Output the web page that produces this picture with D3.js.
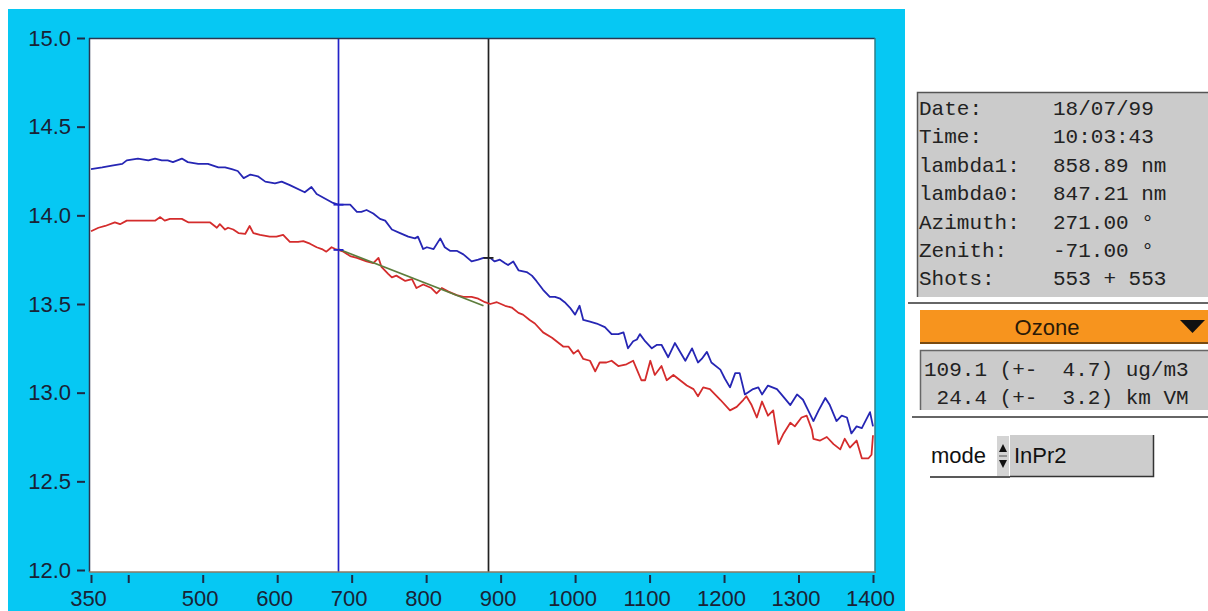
<!DOCTYPE html>
<html>
<head>
<meta charset="utf-8">
<script src="https://cdn.jsdelivr.net/npm/d3@7"></script>
<style>
  html, body { margin: 0; padding: 0; background: #fff; }
  svg { display: block; }
  text { white-space: pre; }
</style>
</head>
<body>
<svg id="chart" width="1208" height="611"></svg>
<script>
// Lidar return signal ln(P·r²) versus range (m) for the two wavelengths
const blueRange = [350,365,378,392,398,413,427,436,445,453,460,472,480,494,507,521,530,539,547,555,564,574,584,597,606,617,637,646,653,675,682,698,707,713,720,729,738,745,754,765,776,785,789,796,801,810,819,825,832,841,850,861,870,877,886,892,899,906,910,917,924,935,942,948,957,966,973,980,986,993,1000,1006,1011,1020,1029,1040,1049,1058,1065,1071,1078,1083,1087,1094,1103,1110,1116,1125,1134,1148,1157,1165,1170,1177,1183,1195,1201,1208,1215,1221,1228,1239,1246,1251,1259,1271,1277,1289,1298,1306,1313,1320,1327,1336,1342,1351,1358,1365,1371,1378,1385,1396,1400];
const blueSignal = [14.26,14.27,14.28,14.29,14.31,14.32,14.31,14.32,14.31,14.31,14.30,14.32,14.30,14.29,14.29,14.27,14.27,14.26,14.25,14.21,14.23,14.22,14.19,14.18,14.19,14.17,14.13,14.16,14.12,14.07,14.06,14.06,14.02,14.02,14.03,14.01,13.98,13.97,13.92,13.90,13.88,13.87,13.88,13.81,13.82,13.81,13.87,13.82,13.80,13.80,13.78,13.74,13.75,13.76,13.76,13.74,13.75,13.73,13.72,13.74,13.69,13.68,13.66,13.63,13.58,13.54,13.54,13.53,13.51,13.48,13.44,13.49,13.41,13.40,13.39,13.37,13.33,13.33,13.34,13.25,13.29,13.30,13.33,13.29,13.25,13.27,13.27,13.20,13.28,13.18,13.25,13.17,13.19,13.23,13.17,13.13,13.08,13.03,13.11,13.11,12.99,13.02,13.03,12.99,13.04,13.02,12.99,12.93,12.99,12.96,12.90,12.84,12.90,12.97,12.93,12.84,12.87,12.86,12.77,12.81,12.80,12.89,12.81];

const redRange = [350,360,369,382,389,398,414,436,443,449,456,472,481,510,519,523,530,534,541,548,557,563,568,577,590,599,608,617,628,635,644,653,660,666,673,678,682,689,698,707,720,729,736,740,749,754,760,772,781,787,796,807,814,821,830,841,850,861,870,879,886,895,906,915,924,930,939,946,957,969,975,984,991,998,1004,1011,1020,1027,1033,1042,1049,1058,1069,1078,1083,1089,1094,1101,1107,1116,1123,1132,1141,1150,1159,1165,1172,1181,1195,1208,1217,1226,1230,1237,1244,1251,1259,1266,1273,1280,1289,1295,1304,1311,1318,1320,1329,1338,1347,1356,1362,1369,1378,1385,1394,1398,1400];
const redSignal = [13.91,13.93,13.94,13.96,13.95,13.97,13.97,13.97,13.99,13.97,13.98,13.98,13.96,13.96,13.93,13.95,13.92,13.93,13.92,13.90,13.895,13.94,13.90,13.89,13.88,13.88,13.89,13.85,13.85,13.855,13.84,13.82,13.81,13.795,13.82,13.81,13.805,13.795,13.77,13.76,13.74,13.73,13.76,13.71,13.67,13.65,13.66,13.63,13.64,13.59,13.61,13.59,13.56,13.59,13.57,13.55,13.54,13.54,13.53,13.51,13.50,13.51,13.49,13.48,13.45,13.44,13.41,13.39,13.34,13.31,13.29,13.26,13.26,13.22,13.24,13.19,13.18,13.12,13.17,13.17,13.18,13.15,13.16,13.18,13.13,13.07,13.07,13.18,13.10,13.15,13.07,13.10,13.07,13.04,13.02,12.98,13.03,13.02,12.96,12.90,12.92,12.96,12.98,12.93,12.86,12.95,12.87,12.90,12.71,12.77,12.83,12.81,12.86,12.87,12.79,12.74,12.73,12.75,12.71,12.68,12.74,12.69,12.73,12.63,12.63,12.65,12.76];

// Linear fit over the selected range window
const fitRange = [682, 877];
const fitSignal = [13.81, 13.49];

// Range-window cursors
const cursorRange = [682, 883];
const cursorColor = ["#2323c8", "#222222"];

// Axis ticks
const xTicks = [350, 400, 500, 600, 700, 800, 900, 1000, 1100, 1200, 1300, 1400];
const xTickLabels = ["350", "", "500", "600", "700", "800", "900", "1000", "1100", "1200", "1300", "1400"];
const yTicks = [12.0, 12.5, 13.0, 13.5, 14.0, 14.5, 15.0];

// Side panel readouts
const infoLabels = ["Date:", "Time:", "lambda1:", "lambda0:", "Azimuth:", "Zenith:", "Shots:"];
const infoValues = ["18/07/99", "10:03:43", "858.89 nm", "847.21 nm", "271.00 °", "-71.00 °", "553 + 553"];
const speciesName = "Ozone";
const resultLines = ["109.1 (+-  4.7) ug/m3", " 24.4 (+-  3.2) km VM"];
const modeName = "InPr2";

const svg = d3.select("#chart");
const SANS = "'Liberation Sans', Arial, Helvetica, sans-serif";
const MONO = "'Liberation Mono', 'Courier New', monospace";

// Cyan frame behind the plot
svg.append("rect").attr("x", 8).attr("y", 9).attr("width", 897).attr("height", 602).attr("fill", "#06c8f3");

const x = d3.scaleLinear().domain([350, 1400]).range([91, 873]);
const y = d3.scaleLinear().domain([12, 15]).range([570, 38]);

// Plot area
svg.append("rect").attr("x", 89).attr("y", 38).attr("width", 786).attr("height", 534).attr("fill", "#ffffff");

svg.append("clipPath").attr("id", "plotclip")
  .append("rect").attr("x", 89).attr("y", 38).attr("width", 786).attr("height", 534);

const plot = svg.append("g").attr("clip-path", "url(#plotclip)");

const line = d3.line().x(d => x(d[0])).y(d => y(d[1]));

const blueData = blueRange.map((r, i) => [r, blueSignal[i]]);
const redData = redRange.map((r, i) => [r, redSignal[i]]);
const fitData = fitRange.map((r, i) => [r, fitSignal[i]]);

// Cursors
plot.selectAll("line.cursor").data(cursorRange).join("line")
  .attr("class", "cursor")
  .attr("x1", d => Math.round(x(d)) + 0.5).attr("x2", d => Math.round(x(d)) + 0.5)
  .attr("y1", 38).attr("y2", 572)
  .attr("stroke", (d, i) => cursorColor[i]).attr("stroke-width", 1.7);

plot.append("path").datum(redData).attr("d", line)
  .attr("fill", "none").attr("stroke", "#d42c2c").attr("stroke-width", 1.8).attr("stroke-linejoin", "round");
plot.append("path").datum(blueData).attr("d", line)
  .attr("fill", "none").attr("stroke", "#2626b4").attr("stroke-width", 1.8).attr("stroke-linejoin", "round");
plot.append("path").datum(fitData).attr("d", line)
  .attr("fill", "none").attr("stroke", "#5d7d3c").attr("stroke-width", 1.7);

// Small markers where the cursors cross each signal
function valueAt(ranges, values, r) {
  const i = Math.max(1, d3.bisectLeft(ranges, r));
  const t = (r - ranges[i - 1]) / (ranges[i] - ranges[i - 1]);
  return values[i - 1] + t * (values[i] - values[i - 1]);
}
cursorRange.forEach((r, ci) => {
  [[blueRange, blueSignal], [redRange, redSignal]].forEach(([rs, vs], si) => {
    if (ci === 1 && si === 1) return;
    const cx = Math.round(x(r)) + 0.5, cy = y(valueAt(rs, vs, r));
    plot.append("line").attr("x1", cx - 5).attr("x2", cx + 5).attr("y1", cy).attr("y2", cy)
      .attr("stroke", cursorColor[ci]).attr("stroke-width", 1.8);
  });
});

// Plot frame
svg.append("line").attr("x1", 89).attr("x2", 875).attr("y1", 38.5).attr("y2", 38.5).attr("stroke", "#2a3550").attr("stroke-width", 1.5);
svg.append("line").attr("x1", 89.5).attr("x2", 89.5).attr("y1", 38).attr("y2", 572).attr("stroke", "#2a3550").attr("stroke-width", 1.5);
svg.append("line").attr("x1", 875).attr("x2", 875).attr("y1", 38).attr("y2", 573).attr("stroke", "#2f7f88").attr("stroke-width", 1.5);
svg.append("line").attr("x1", 89).attr("x2", 876).attr("y1", 572).attr("y2", 572).attr("stroke", "#8b7a62").attr("stroke-width", 1.5);

// Y axis
const yAxis = svg.append("g").attr("transform", "translate(85,0)")
  .call(d3.axisLeft(y).tickValues(yTicks).tickFormat(d3.format(".1f")).tickSize(8).tickPadding(6).tickSizeOuter(0));
yAxis.select(".domain").remove();
yAxis.selectAll(".tick line").attr("stroke", "#1e2a44").attr("stroke-width", 2);
yAxis.selectAll(".tick text").attr("fill", "#1a2235").style("font-family", SANS).style("font-size", "22px");

// X axis
const xAxis = svg.append("g").attr("transform", "translate(0,575)")
  .call(d3.axisBottom(x).tickValues(xTicks).tickFormat((d, i) => xTickLabels[i]).tickSize(8).tickSizeOuter(0));
xAxis.select(".domain").remove();
xAxis.selectAll(".tick line").attr("stroke", "#1e2a44").attr("stroke-width", 2);
xAxis.selectAll(".tick text").attr("fill", "#1a2235").attr("y", 31).attr("dy", 0).attr("dx", -3)
  .style("font-family", SANS).style("font-size", "22px");

// ---- Side panel ----
const panel = svg.append("g");

// Info readout box
panel.append("rect").attr("x", 917).attr("y", 92).attr("width", 291).attr("height", 205).attr("fill", "#cbcbcb");
panel.append("path").attr("d", "M917.5,297 V92.5 H1208").attr("fill", "none").attr("stroke", "#555").attr("stroke-width", 1.5);
panel.selectAll("text.lab").data(infoLabels).join("text").attr("class", "lab")
  .attr("x", 919).attr("y", (d, i) => 115 + i * 28.4)
  .style("font-family", MONO).style("font-size", "21px").attr("fill", "#222").text(d => d);
panel.selectAll("text.val").data(infoValues).join("text").attr("class", "val")
  .attr("x", 1053).attr("y", (d, i) => 115 + i * 28.4)
  .style("font-family", MONO).style("font-size", "21px").attr("fill", "#222").text(d => d);

panel.append("line").attr("x1", 908).attr("x2", 1208).attr("y1", 303).attr("y2", 303).attr("stroke", "#333").attr("stroke-width", 1.5);

// Species selector
panel.append("rect").attr("x", 920).attr("y", 310).attr("width", 288).attr("height", 33).attr("fill", "#f7941e");
panel.append("line").attr("x1", 920).attr("x2", 1208).attr("y1", 343).attr("y2", 343).attr("stroke", "#7a4a10").attr("stroke-width", 2);
panel.append("text").attr("x", 1047).attr("y", 335).attr("text-anchor", "middle")
  .style("font-family", SANS).style("font-size", "22px").attr("fill", "#2a1a08").text(speciesName);
panel.append("path").attr("d", "M1180,320 L1205,320 L1192.5,333 Z").attr("fill", "#111");

// Retrieval result box
panel.append("rect").attr("x", 920).attr("y", 350).attr("width", 288).attr("height", 60).attr("fill", "#cbcbcb");
panel.append("path").attr("d", "M920.5,410 V350.5 H1208").attr("fill", "none").attr("stroke", "#666").attr("stroke-width", 1.5);
panel.selectAll("text.res").data(resultLines).join("text").attr("class", "res")
  .attr("x", 924).attr("y", (d, i) => 376 + i * 28)
  .style("font-family", MONO).style("font-size", "21px").attr("fill", "#222").text(d => d);

panel.append("line").attr("x1", 912).attr("x2", 1208).attr("y1", 417).attr("y2", 417).attr("stroke", "#333").attr("stroke-width", 1.5);

// Mode spinner
panel.append("text").attr("x", 931).attr("y", 463)
  .style("font-family", SANS).style("font-size", "22px").attr("fill", "#111").text("mode");
panel.append("line").attr("x1", 930).attr("x2", 1010).attr("y1", 477).attr("y2", 477).attr("stroke", "#222").attr("stroke-width", 1.5);
panel.append("rect").attr("x", 997).attr("y", 436).attr("width", 12).attr("height", 40).attr("fill", "#d4d4d4");
panel.append("path").attr("d", "M999,452 L1007,452 L1003,444 Z").attr("fill", "#111");
panel.append("path").attr("d", "M999,460 L1007,460 L1003,468 Z").attr("fill", "#111");
panel.append("line").attr("x1", 999).attr("x2", 1007).attr("y1", 456).attr("y2", 456).attr("stroke", "#555");
panel.append("rect").attr("x", 1010).attr("y", 435).attr("width", 143).attr("height", 42).attr("fill", "#cdcdcd");
panel.append("path").attr("d", "M1010,476.5 H1153.5 V435").attr("fill", "none").attr("stroke", "#333").attr("stroke-width", 1.5);
panel.append("text").attr("x", 1014).attr("y", 463)
  .style("font-family", SANS).style("font-size", "22px").attr("fill", "#111").text(modeName);
</script>
</body>
</html>
